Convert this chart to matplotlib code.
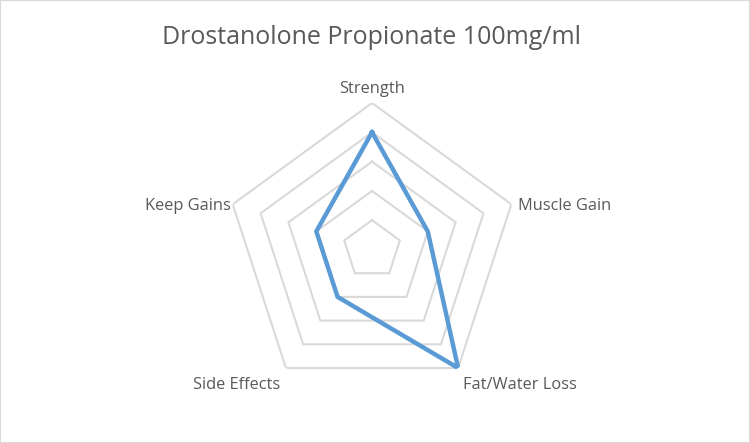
import numpy as np
import matplotlib
matplotlib.use("Agg")
import matplotlib.pyplot as plt
from matplotlib.patches import Rectangle

categories = ["Strength", "Muscle Gain", "Fat/Water Loss", "Side Effects", "Keep Gains"]
values = [4, 2, 5, 2, 2]
levels = [1, 2, 3, 4, 5]
title = "Drostanolone Propionate 100mg/ml"

plt.rcParams['font.family'] = ['Open Sans', 'DejaVu Sans']
txt = '#595959'

fig = plt.figure(figsize=(7.5, 4.43), dpi=100)
fig.patches.append(Rectangle((0, 0), 1, 1, transform=fig.transFigure, fill=False,
                             edgecolor='#d9d9d9', linewidth=1.5))
ax = fig.add_axes([0.3007, 0.1061, 0.3907, 0.6614], projection='polar')
ax.set_theta_offset(np.pi / 2)
ax.set_theta_direction(-1)
ax.set_ylim(0, 5)
ax.axis('off')

n = len(categories)
theta = np.linspace(0, 2 * np.pi, n, endpoint=False)
th_closed = np.append(theta, theta[0])

for lv in levels:
    ax.plot(th_closed, [lv] * (n + 1), color='#d9d9d9', linewidth=1.5, zorder=1)

ax.plot(th_closed, values + values[:1], color='#5b9bd5', linewidth=3.2,
        solid_joinstyle='miter', zorder=3)

offsets = [(0, 14, 'center'), (7, -2, 'left'), (62, -17, 'center'),
           (-49, -17, 'center'), (-2, -2, 'right')]
for t, lab, (dx, dy, ha) in zip(theta, categories, offsets):
    ax.annotate(lab, xy=(t, 5), xytext=(dx, dy), textcoords='offset pixels',
                ha=ha, va='center', fontsize=11.8, color=txt, annotation_clip=False)

fig.text(0.496, 1 - 38 / 443, title, ha='center', va='center', fontsize=18, color=txt)

plt.savefig("out.png", dpi=100)
